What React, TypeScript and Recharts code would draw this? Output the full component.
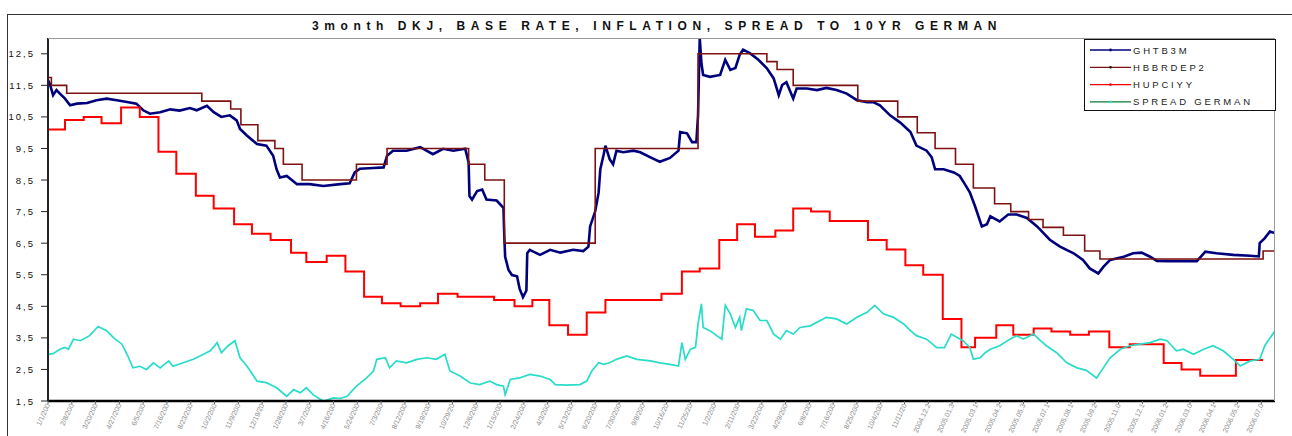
import React from "react";
import { LineChart, Line, XAxis, YAxis } from "recharts";

// x = business-day index from 1/1/2001
const xTickLabels = [
  "1/1/200", "2/8/200", "3/20/200", "4/27/200", "6/5/200", "7/16/200", "8/23/200", "10/2/200", "11/9/200", "12/19/20",
  "1/28/200", "3/7/200", "4/16/200", "5/24/200", "7/3/200", "8/12/200", "9/19/200", "10/29/20", "12/6/200",
  "1/15/200", "2/24/200", "4/3/200", "5/13/200", "6/20/200", "7/30/200", "9/8/200", "10/16/20", "11/25/20",
  "1/2/200", "2/11/200", "3/22/200", "4/29/200", "6/8/200", "7/16/200", "8/25/200", "10/4/200", "11/11/20",
  "2004.12.2", "2005.01.3", "2005.03.1", "2005.04.2", "2005.05.3", "2005.07.1", "2005.08.1", "2005.09.2",
  "2005.11.0", "2005.12.1", "2006.01.2", "2006.03.0", "2006.04.1", "2006.05.2", "2006.07.0",
];
const tickStep = 28;
const xMax = 1444;
const yTickValues = [1.5, 2.5, 3.5, 4.5, 5.5, 6.5, 7.5, 8.5, 9.5, 10.5, 11.5, 12.5];

const ghtb3m: [number, number][] = [
  [0, 11.67], [2, 11.56], [6, 11.19], [10, 11.35], [14, 11.24], [20, 11.08], [26, 10.87], [34, 10.92], [46, 10.94],
  [57, 11.03], [69, 11.08], [81, 11.03], [93, 10.97], [104, 10.92], [112, 10.71], [120, 10.6], [132, 10.65],
  [144, 10.74], [155, 10.7], [167, 10.78], [175, 10.71], [187, 10.85], [195, 10.65], [204, 10.5], [214, 10.55],
  [222, 10.39], [226, 10.12], [234, 9.91], [246, 9.64], [257, 9.59], [265, 9.27], [269, 8.84], [273, 8.58],
  [281, 8.63], [293, 8.37], [308, 8.37], [324, 8.31], [344, 8.37], [355, 8.4], [361, 8.74], [367, 8.86],
  [383, 8.88], [395, 8.9], [399, 9.27], [406, 9.43], [422, 9.43], [438, 9.54], [453, 9.32], [465, 9.49],
  [477, 9.43], [491, 9.49], [495, 9.06], [496, 7.99], [499, 7.88], [505, 8.15], [511, 8.2], [516, 7.88],
  [528, 7.85], [536, 7.62], [537, 6.71], [538, 6.07], [542, 5.65], [546, 5.49], [552, 5.45], [555, 5.06],
  [559, 4.79], [563, 5.0], [564, 6.18], [567, 6.29], [579, 6.13], [591, 6.29], [603, 6.2], [618, 6.29],
  [630, 6.25], [636, 6.39], [638, 7.03], [644, 7.51], [648, 8.1], [650, 8.84], [654, 9.32], [656, 9.59],
  [661, 9.16], [665, 9.0], [669, 9.43], [677, 9.38], [689, 9.43], [697, 9.38], [709, 9.22], [720, 9.08],
  [732, 9.2], [742, 9.43], [744, 10.02], [752, 9.98], [758, 9.7], [763, 9.7], [765, 10.55], [767, 13.0],
  [769, 12.2], [771, 11.83], [779, 11.77], [791, 11.83], [797, 12.31], [803, 11.99], [809, 12.05], [814, 12.47],
  [818, 12.63], [826, 12.52], [836, 12.31], [846, 12.04], [854, 11.72], [860, 11.19], [864, 11.51], [869, 11.6],
  [877, 11.08], [881, 11.4], [893, 11.4], [905, 11.35], [916, 11.42], [928, 11.35], [940, 11.24], [952, 11.03],
  [964, 10.97], [971, 10.97], [979, 10.87], [991, 10.55], [1003, 10.32], [1015, 10.02], [1022, 9.59], [1034, 9.43],
  [1040, 9.22], [1044, 8.84], [1054, 8.84], [1066, 8.74], [1073, 8.63], [1079, 8.37], [1085, 8.1], [1091, 7.67],
  [1099, 7.03], [1105, 7.1], [1109, 7.35], [1120, 7.19], [1130, 7.41], [1140, 7.41], [1152, 7.3], [1164, 7.03],
  [1179, 6.61], [1191, 6.39], [1207, 6.18], [1218, 5.97], [1226, 5.7], [1236, 5.54], [1242, 5.75], [1250, 5.97],
  [1266, 6.07], [1277, 6.18], [1287, 6.2], [1297, 6.07], [1305, 5.94], [1320, 5.93], [1336, 5.93], [1352, 5.93],
  [1362, 6.23], [1375, 6.18], [1395, 6.13], [1415, 6.1], [1425, 6.08], [1426, 6.5], [1432, 6.66], [1438, 6.87],
  [1444, 6.82],
];

const hbbrdep2: [number, number][] = [
  [0, 11.75], [4, 11.5], [22, 11.25], [181, 11.0], [215, 10.75], [227, 10.25], [247, 9.75], [267, 9.5],
  [277, 9.0], [299, 8.5], [363, 9.0], [399, 9.5], [495, 9.0], [514, 8.5], [537, 6.5], [644, 9.5], [765, 12.5],
  [846, 12.25], [858, 12.0], [877, 11.5], [953, 11.0], [1000, 10.5], [1023, 10.0], [1044, 9.5], [1068, 9.0],
  [1089, 8.25], [1114, 7.75], [1133, 7.5], [1154, 7.25], [1171, 7.0], [1195, 6.75], [1220, 6.25], [1238, 6.0],
  [1430, 6.25], [1444, 6.25],
];

const hupciyy: [number, number][] = [
  [0, 10.1], [20, 10.4], [42, 10.5], [63, 10.3], [86, 10.8], [108, 10.5], [130, 9.4], [151, 8.7], [174, 8.0],
  [195, 7.6], [219, 7.1], [240, 6.8], [262, 6.6], [286, 6.2], [304, 5.9], [328, 6.1], [350, 5.6], [372, 4.8],
  [393, 4.6], [415, 4.5], [438, 4.6], [459, 4.9], [482, 4.8], [525, 4.7], [549, 4.5], [570, 4.7], [590, 3.9],
  [612, 3.6], [634, 4.3], [656, 4.7], [722, 4.9], [746, 5.6], [767, 5.7], [790, 6.6], [811, 7.1], [832, 6.7],
  [856, 6.9], [877, 7.6], [898, 7.5], [920, 7.2], [965, 6.6], [987, 6.3], [1009, 5.8], [1030, 5.5], [1053, 4.1],
  [1075, 3.2], [1091, 3.5], [1116, 3.9], [1136, 3.6], [1160, 3.8], [1181, 3.7], [1203, 3.6], [1225, 3.7],
  [1249, 3.2], [1273, 3.3], [1313, 2.7], [1334, 2.5], [1356, 2.3], [1398, 2.8], [1430, 2.8],
];

const spreadGerman: [number, number][] = [
  [0, 2.98], [6, 3.0], [14, 3.14], [20, 3.2], [24, 3.14], [30, 3.46], [38, 3.41], [49, 3.57], [59, 3.86],
  [69, 3.73], [77, 3.51], [87, 3.3], [93, 2.98], [100, 2.55], [108, 2.6], [116, 2.5], [124, 2.71], [132, 2.55],
  [142, 2.77], [147, 2.6], [159, 2.71], [171, 2.82], [183, 2.98], [191, 3.09], [199, 3.35], [204, 3.03],
  [212, 3.25], [220, 3.41], [226, 2.87], [234, 2.61], [246, 2.13], [257, 2.08], [269, 1.92], [281, 1.65],
  [289, 1.86], [297, 1.76], [304, 1.92], [312, 1.7], [324, 1.49], [336, 1.6], [344, 1.58], [352, 1.65],
  [363, 1.97], [375, 2.23], [383, 2.45], [387, 2.82], [397, 2.87], [402, 2.55], [410, 2.77], [422, 2.71],
  [434, 2.82], [446, 2.87], [457, 2.82], [467, 2.98], [473, 2.45], [485, 2.29], [497, 2.07], [508, 2.02],
  [520, 2.13], [528, 2.02], [536, 1.97], [538, 1.7], [544, 2.18], [555, 2.23], [567, 2.34], [579, 2.29],
  [591, 2.18], [597, 2.02], [610, 2.0], [626, 2.02], [634, 2.13], [640, 2.45], [648, 2.71], [654, 2.66],
  [661, 2.71], [669, 2.82], [681, 2.93], [693, 2.82], [709, 2.77], [720, 2.71], [732, 2.66], [742, 2.61],
  [746, 3.35], [750, 2.82], [756, 3.14], [762, 3.2], [765, 3.94], [769, 4.58], [771, 3.83], [779, 3.73],
  [787, 3.57], [793, 3.46], [797, 4.53], [803, 4.26], [809, 3.83], [814, 4.15], [816, 3.73], [822, 4.42],
  [830, 4.37], [838, 4.05], [846, 4.05], [854, 3.62], [862, 3.46], [869, 3.73], [877, 3.62], [885, 3.83],
  [897, 3.88], [909, 4.05], [916, 4.15], [928, 4.1], [940, 3.94], [952, 4.15], [964, 4.31], [973, 4.53],
  [983, 4.26], [995, 4.15], [1007, 3.94], [1015, 3.73], [1022, 3.57], [1034, 3.46], [1046, 3.19], [1055, 3.19],
  [1063, 3.62], [1070, 3.51], [1077, 3.41], [1085, 3.19], [1089, 2.82], [1097, 2.87], [1103, 3.03], [1109, 3.14],
  [1120, 3.25], [1132, 3.46], [1140, 3.57], [1148, 3.46], [1160, 3.62], [1168, 3.41], [1175, 3.25], [1187, 3.03],
  [1199, 2.71], [1211, 2.55], [1222, 2.47], [1234, 2.23], [1242, 2.55], [1250, 2.87], [1262, 3.14], [1273, 3.25],
  [1285, 3.3], [1297, 3.35], [1309, 3.46], [1317, 3.41], [1328, 3.09], [1336, 3.14], [1348, 2.98], [1360, 3.14],
  [1371, 3.25], [1383, 3.09], [1395, 2.82], [1403, 2.61], [1415, 2.77], [1426, 2.82], [1432, 3.25], [1440, 3.57],
  [1444, 3.73],
];

const toPts = (arr: [number, number][]) => arr.map(([t, v]) => ({ t, v }));

const FONT = "Arial, 'Liberation Sans', sans-serif";
const C_BLUE = "#00007c";
const C_BROWN = "#7e1212";
const C_RED = "#ff0000";
const C_CYAN = "#27dcc8";
const C_GREEN = "#0b7a32";

const legendItems = [
  { name: "GHTB3M", line: C_BLUE, marker: C_BLUE },
  { name: "HBBRDEP2", line: C_BROWN, marker: "#222" },
  { name: "HUPCIYY", line: C_RED, marker: C_RED },
  { name: "SPREAD GERMAN", line: C_GREEN, marker: C_CYAN },
];

const XTick = (props: any) => {
  const { x, y, payload } = props;
  const label = xTickLabels[Math.round(payload.value / tickStep)];
  return (
    <text
      x={x}
      y={y}
      dy={2.5}
      transform={`rotate(-65 ${x} ${y})`}
      textAnchor="end"
      fontSize={7}
      fill="#8c8c8c"
      fontFamily={FONT}
    >
      {label}
    </text>
  );
};

const YTick = (props: any) => {
  const { x, y, payload } = props;
  return (
    <text x={x} y={y} dy={3.5} textAnchor="end" fontSize={9.5} fill="#111" fontFamily={FONT} letterSpacing={2}>
      {String(payload.value).replace(".", ",")}
    </text>
  );
};

export default function App() {
  return (
    <div style={{ position: "relative", width: 1292, height: 436, background: "#fff", overflow: "hidden" }}>
      <style>{`body{margin:0;}`}</style>
      {/* outer chart area frame */}
      <div style={{ position: "absolute", left: 7, top: 14, width: 1300, height: 440, borderLeft: "1.5px solid #333", borderTop: "1.5px solid #333" }} />
      <div
        style={{
          position: "absolute",
          left: 0,
          width: 1314,
          top: 19,
          textAlign: "center",
          fontFamily: FONT,
          fontWeight: "bold",
          fontSize: 12,
          letterSpacing: 5.6,
          color: "#111",
          whiteSpace: "nowrap",
        }}
      >
        3month DKJ, BASE RATE, INFLATION, SPREAD TO 10YR GERMAN
      </div>
      <div style={{ position: "absolute", left: 0, top: 0 }}>
        <LineChart width={1292} height={436} margin={{ top: 38, right: 17, bottom: 0, left: 0 }}>
          <XAxis
            type="number"
            dataKey="t"
            domain={[0, xMax]}
            ticks={xTickLabels.map((_, i) => i * tickStep)}
            interval={0}
            height={35}
            tick={<XTick />}
            tickSize={3}
            tickMargin={0}
            tickLine={{ stroke: "#666" }}
            axisLine={{ stroke: "#000", strokeWidth: 2.5 }}
            allowDataOverflow
          />
          <YAxis
            type="number"
            domain={[1.5, 13]}
            ticks={yTickValues}
            interval={0}
            width={48}
            tick={<YTick />}
            tickSize={7}
            tickMargin={6}
            tickLine={{ stroke: "#222" }}
            axisLine={{ stroke: "#222", strokeWidth: 2 }}
            allowDataOverflow
          />
          <Line data={toPts(ghtb3m)} dataKey="v" type="linear" stroke={C_BLUE} strokeWidth={2.6} dot={false} isAnimationActive={false} />
          <Line data={toPts(hbbrdep2)} dataKey="v" type="stepAfter" stroke={C_BROWN} strokeWidth={1.6} dot={false} isAnimationActive={false} />
          <Line data={toPts(hupciyy)} dataKey="v" type="stepAfter" stroke={C_RED} strokeWidth={2} dot={false} isAnimationActive={false} />
          <Line data={toPts(spreadGerman)} dataKey="v" type="linear" stroke={C_CYAN} strokeWidth={1.7} dot={false} isAnimationActive={false} />
        </LineChart>
      </div>
      {/* plot area border (top / right) */}
      <div style={{ position: "absolute", left: 48, top: 38, width: 1227, height: 363, borderTop: "1px solid #9a9a9a", borderRight: "1px solid #9a9a9a", boxSizing: "border-box", pointerEvents: "none" }} />
      {/* legend */}
      <svg style={{ position: "absolute", left: 1084, top: 39 }} width={192} height={72}>
        <rect x={0.5} y={0.5} width={191} height={71} fill="#fff" stroke="#111" strokeWidth={1} />
        {legendItems.map((it, i) => {
          const cy = 11 + i * 17.3;
          return (
            <g key={it.name}>
              <line x1={6} x2={47} y1={cy} y2={cy} stroke={it.line} strokeWidth={1.3} />
              <circle cx={26.5} cy={cy} r={1.4} fill={it.marker} />
              <text x={49} y={cy} dy={3.5} fontSize={9.5} fontFamily={FONT} fill="#222" letterSpacing={2.8}>
                {it.name}
              </text>
            </g>
          );
        })}
      </svg>
    </div>
  );
}
